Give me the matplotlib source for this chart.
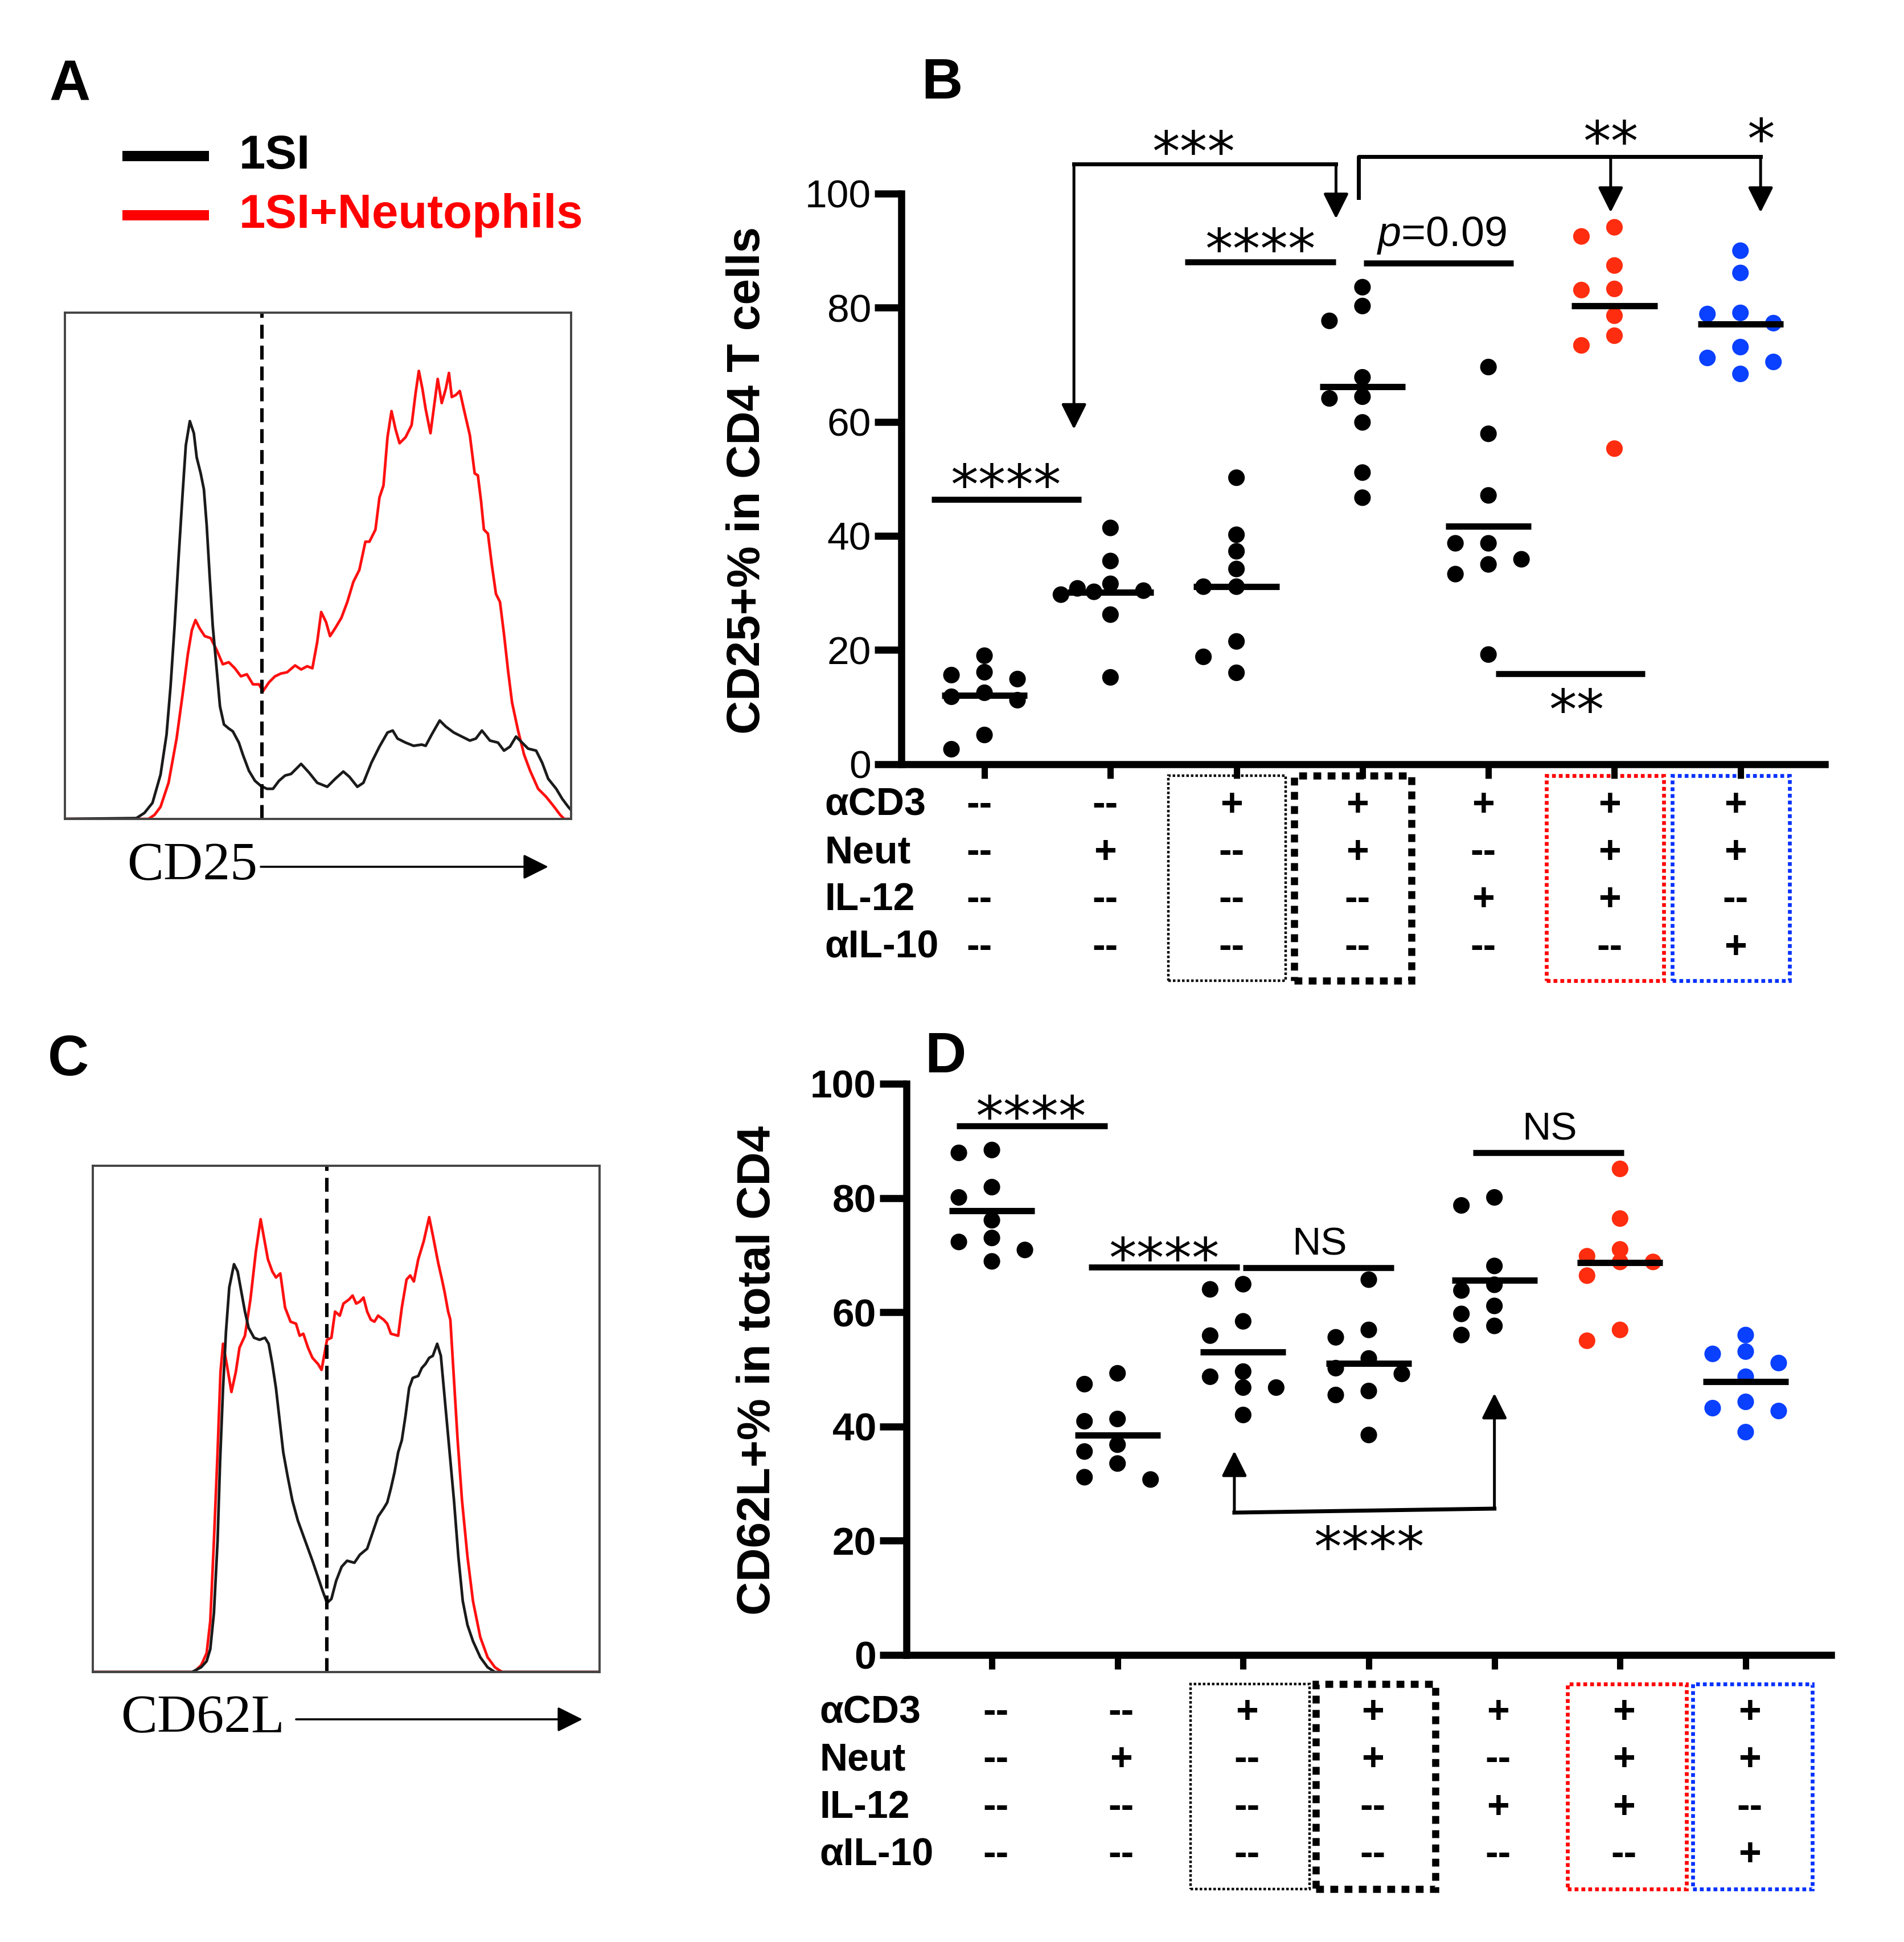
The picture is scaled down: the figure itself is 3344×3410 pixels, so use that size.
import numpy as np
import matplotlib
matplotlib.use("Agg")
import matplotlib.pyplot as plt
from matplotlib.lines import Line2D
from matplotlib.patches import Rectangle

plt.rcParams['font.family'] = ['Liberation Sans', 'DejaVu Sans']
plt.rcParams['mathtext.fontset'] = 'custom'
plt.rcParams['mathtext.it'] = 'Liberation Sans:italic'
plt.rcParams['mathtext.rm'] = 'Liberation Sans'

cd25_ch_1si = [162, 340, 360, 380, 400, 415, 425, 435, 445, 455, 463, 473, 483, 490, 500, 508, 515, 522, 530, 540,
               548, 558, 570, 580, 595, 605, 620, 635, 650, 665, 680, 695, 710, 725, 750, 770, 790, 815, 835, 855,
               870, 890, 905, 925, 945, 965, 978, 990, 1010, 1030, 1050, 1060, 1075, 1095, 1110, 1130, 1150, 1170, 1185, 1200,
               1220, 1240, 1255, 1270, 1285, 1300, 1315, 1335, 1350, 1365, 1385, 1400, 1415, 1422]
cd25_n_1si = [0, 2, 15, 40, 110, 210, 330, 480, 650, 810, 930, 990, 960, 900, 860, 820, 730, 610, 480, 370,
              280, 235, 225, 218, 190, 160, 120, 95, 82, 75, 75, 95, 108, 112, 137, 115, 90, 80, 100, 118,
              105, 80, 90, 140, 180, 215, 220, 200, 190, 182, 185, 182, 210, 245, 230, 215, 205, 195, 200, 220,
              195, 190, 170, 180, 205, 190, 175, 170, 140, 100, 75, 50, 30, 22]
cd25_ch_neut = [162, 370, 385, 400, 420, 440, 455, 468, 478, 487, 497, 510, 525, 540, 555, 570, 585, 600, 615, 630,
                645, 655, 670, 685, 700, 715, 735, 750, 765, 778, 790, 800, 812, 822, 835, 850, 865, 880, 895, 910,
                920, 935, 945, 955, 965, 975, 985, 995, 1010, 1025, 1035, 1043, 1052, 1060, 1072, 1080, 1090, 1100, 1110, 1118,
                1125, 1135, 1145, 1155, 1170, 1182, 1190, 1198, 1205, 1215, 1225, 1235, 1245, 1255, 1265, 1275, 1290, 1305, 1320, 1340,
                1360, 1380, 1395, 1405, 1422]
cd25_n_neut = [0, 0, 10, 30, 90, 200, 310, 410, 470, 495, 475, 455, 450, 420, 385, 390, 375, 355, 360, 335,
               335, 318, 340, 355, 362, 365, 382, 372, 380, 375, 440, 515, 490, 455, 475, 500, 540, 590, 620, 690,
               690, 720, 800, 830, 950, 1015, 970, 935, 950, 980, 1060, 1115, 1070, 1020, 960, 1020, 1095, 1035, 1070, 1110,
               1050, 1055, 1065, 1020, 955, 860, 855, 790, 720, 710, 630, 560, 540, 460, 370, 290, 220, 160, 120, 75,
               55, 30, 10, 0, 0]
cd25_gate = 652

cd62l_ch_1si = [98, 370, 395, 410, 420, 430, 440, 447, 455, 463, 472, 485, 495, 505, 515, 525, 540, 555, 570, 580,
                590, 600, 610, 620, 632, 645, 660, 680, 700, 715, 728, 740, 752, 765, 780, 795, 815, 830, 850, 865,
                880, 895, 905, 915, 925, 935, 945, 955, 965, 975, 990, 1000, 1010, 1020, 1030, 1042, 1052, 1060, 1068, 1078,
                1088, 1100, 1112, 1125, 1140, 1160, 1180, 1200, 1487]
cd62l_n_1si = [0, 0, 12, 27, 57, 147, 327, 527, 707, 847, 957, 1015, 997, 947, 897, 857, 832, 827, 832, 817,
               767, 707, 627, 547, 487, 427, 377, 327, 277, 237, 202, 172, 182, 227, 262, 277, 272, 292, 307, 347,
               387, 407, 422, 457, 497, 547, 577, 637, 707, 732, 737, 757, 767, 782, 787, 817, 787, 707, 627, 527,
               427, 287, 177, 117, 77, 37, 12, 0, 0]
cd62l_ch_neut = [98, 375, 395, 410, 420, 430, 440, 448, 455, 465, 478, 490, 500, 515, 530, 545, 558, 568, 578, 590,
                 600, 612, 625, 640, 655, 665, 675, 688, 700, 715, 725, 740, 752, 762, 775, 785, 800, 810, 820, 830,
                 840, 850, 860, 870, 880, 895, 905, 915, 935, 945, 958, 968, 978, 990, 1005, 1020, 1030, 1045, 1055, 1062,
                 1072, 1078, 1088, 1098, 1110, 1125, 1140, 1160, 1180, 1200, 1220, 1487]
cd62l_n_neut = [0, 0, 17, 47, 127, 327, 547, 747, 817, 767, 697, 747, 807, 837, 927, 1047, 1127, 1077, 1027, 997,
                982, 992, 907, 872, 867, 837, 842, 807, 782, 767, 752, 827, 832, 897, 887, 917, 927, 937, 917, 922,
                932, 897, 877, 872, 887, 877, 867, 842, 837, 907, 977, 987, 972, 1027, 1072, 1132, 1087, 1017, 977, 947,
                897, 877, 727, 577, 427, 287, 177, 87, 37, 12, 0, 0]
cd62l_gate = 740

# ---- panel B: CD25+ % in CD4 T cells
cd25_pct = [
    [19.0, 15.6, 16.1, 14.9, 12.5, 11.8, 11.2, 5.1, 2.6],
    [41.4, 35.6, 31.6, 30.4, 30.2, 29.7, 30.8, 26.2, 15.2],
    [50.2, 40.2, 37.3, 34.2, 31.1, 31.1, 21.5, 18.8, 16.0],
    [83.6, 80.3, 77.7, 67.8, 64.4, 64.1, 59.9, 51.1, 46.7],
    [69.6, 57.9, 47.1, 38.7, 38.7, 35.9, 35.0, 33.3, 19.2],
    [94.1, 92.5, 87.4, 83.1, 83.3, 78.6, 75.1, 73.4, 55.3],
    [90.0, 86.1, 78.9, 79.1, 77.3, 73.1, 71.2, 70.5, 68.4],
]
# ---- panel D: CD62L+ % in total CD4
cd62l_pct = [
    [87.9, 88.4, 81.9, 80.1, 76.1, 73.0, 72.3, 70.9, 68.9],
    [49.3, 47.4, 40.9, 41.3, 36.8, 35.6, 33.5, 30.7, 31.1],
    [64.0, 64.9, 58.4, 55.9, 49.6, 48.7, 46.8, 46.8, 42.0],
    [65.7, 56.9, 55.6, 51.9, 49.2, 50.2, 46.2, 45.5, 38.5],
    [80.1, 78.7, 68.1, 63.8, 64.8, 61.1, 59.7, 57.6, 56.0],
    [85.1, 76.4, 71.0, 68.8, 68.8, 69.8, 66.4, 56.9, 55.0],
    [56.0, 53.1, 52.7, 51.1, 48.7, 44.3, 43.2, 42.7, 39.0],
]
group_colors = ['black', 'black', 'black', 'black', 'black', '#FF2D0F', '#0A40FF']

row_names = ['αCD3', 'Neut', 'IL-12', 'αIL-10']
cond_acd3 = ['--', '--', '+', '+', '+', '+', '+']
cond_neut = ['--', '+', '--', '+', '--', '+', '+']
cond_il12 = ['--', '--', '--', '--', '+', '+', '--']
cond_ail10 = ['--', '--', '--', '--', '--', '--', '+']
conditions = [cond_acd3, cond_neut, cond_il12, cond_ail10]

W, H, DPI = 3344, 3410, 200
fig = plt.figure(figsize=(W / DPI, H / DPI), dpi=DPI)


def histo(rect, ch1, n1, ch2, n2, gate, xlim, label, lab_xy, arr_x):
    ax = fig.add_axes(rect)
    ax.plot(ch2, n2, color='#FF1010', lw=1.7)
    ax.plot(ch1, n1, color='#1a1a1a', lw=1.7)
    ax.plot([gate, gate], [0, 1260], color='black', lw=2.2, ls=(0, (4, 2)))
    ax.set_xlim(*xlim)
    ax.set_ylim(0, 1260)
    ax.set_xticks([])
    ax.set_yticks([])
    for s in ax.spines.values():
        s.set_color('#444444')
        s.set_linewidth(1.4)
    fig.text(lab_xy[0], lab_xy[1], label, family='Liberation Serif', fontsize=34.5,
             ha='center', va='center')
    fig.add_artist(matplotlib.patches.FancyArrowPatch(
        (arr_x[0], lab_xy[1]), (arr_x[1], lab_xy[1]), transform=fig.transFigure,
        arrowstyle='-|>', mutation_scale=34, lw=1.3, color='black', shrinkA=0, shrinkB=0))
    return ax


histo([114 / W, 1 - 1438 / H, 889 / W, 889 / H], cd25_ch_1si, cd25_n_1si, cd25_ch_neut, cd25_n_neut,
      cd25_gate, (162, 1422), 'CD25', (338 / W, 1 - 1522 / H), (458 / W, 963 / W))
histo([163 / W, 1 - 2936 / H, 890 / W, 889 / H], cd62l_ch_1si, cd62l_n_1si, cd62l_ch_neut, cd62l_n_neut,
      cd62l_gate, (98, 1487), 'CD62L', (356 / W, 1 - 3019 / H), (520 / W, 1023 / W))

# legend of panel A
for yy, col, txt in [(274, 'black', '1SI'), (378, '#FF0000', '1SI+Neutophils')]:
    fig.add_artist(Line2D([215 / W, 367 / W], [1 - yy / H, 1 - yy / H], transform=fig.transFigure,
                          color=col, lw=6.5, solid_capstyle='butt'))
    fig.text(420 / W, 1 - yy / H, txt, color=col, fontsize=30, fontweight='bold', ha='left', va='center')

# panel letters
for (px, py), letter in zip([(123, 150), (1654, 147), (120, 1862), (1660, 1857)], 'ABCD'):
    fig.text(px / W, 1 - py / H, letter, fontsize=36, fontweight='bold', ha='center', va='center')


def swarm(vals, px_x, px_y, d):
    vals = np.asarray(vals, float)
    offs = np.zeros(len(vals))
    placed = []
    step = d / px_x
    cands = [0, -2, 2, -1, 1, -3, 3]
    for i in np.argsort(-vals):
        best, best_c = -1, 0
        for c in cands:
            if placed:
                clear = min(((c * step - offs[j]) * px_x / (2 * d)) ** 2 +
                            ((vals[i] - vals[j]) * px_y / d) ** 2 for j in placed)
            else:
                clear = 99
            if clear >= 1:
                best_c = c
                break
            if clear > best:
                best, best_c = clear, c
        offs[i] = best_c * step
        placed.append(i)
    return offs


def stars(ax, x, yc, s, fs=35):
    ax.annotate(s, (x, yc), xytext=(0, -0.55 * fs), textcoords='offset points', ha='center',
                va='baseline', fontsize=fs, family='DejaVu Sans', annotation_clip=False)


def bar(ax, x0, x1, y, lw=3.8):
    ax.plot([x0, x1], [y, y], color='black', lw=lw, clip_on=False, solid_capstyle='butt')


def arrow(ax, p0, p1):
    ax.annotate('', xy=p1, xytext=p0, annotation_clip=False,
                arrowprops=dict(arrowstyle='-|>', color='black', lw=1.8, mutation_scale=34,
                                shrinkA=0, shrinkB=0))


def scatter_panel(rect, groups, xlim, bold_ticks, ylabel, ylab_xy, rows_base, lab_x, box_lo, box_hi,
                  box_y, val_dx):
    ax = fig.add_axes(rect)
    ax.set_xlim(*xlim)
    ax.set_ylim(0, 100)
    px_x = rect[2] * W / (xlim[1] - xlim[0])
    px_y = rect[3] * H / 100.0
    for k, (vals, col) in enumerate(zip(groups, group_colors)):
        xc = k + 1
        offs = swarm(vals, px_x, px_y, 29)
        ax.scatter(xc + offs, vals, s=110, color=col, edgecolors='none', zorder=3, clip_on=False)
        ax.hlines(np.mean(vals), xc - 0.34, xc + 0.34, color='black', lw=4, zorder=4)
    for s in ['top', 'right']:
        ax.spines[s].set_visible(False)
    for s in ['left', 'bottom']:
        ax.spines[s].set_linewidth(4.5)
    ax.set_xticks(range(1, 8))
    ax.set_yticks([0, 20, 40, 60, 80, 100])
    ax.tick_params(axis='x', length=9, width=4, labelbottom=False)
    ax.tick_params(axis='y', length=17, width=4.5, pad=2, labelsize=25)
    if bold_ticks:
        for t in ax.get_yticklabels():
            t.set_fontweight('bold')
    fig.text(ylab_xy[0], ylab_xy[1], ylabel, rotation=90, fontsize=29.5, fontweight='bold',
             ha='center', va='center')
    # condition table
    for r, (name, cond) in enumerate(zip(row_names, conditions)):
        yb = rows_base[0] - r * 8.32
        ax.text(lab_x, yb, name, fontsize=24.5, fontweight='bold', ha='left', va='baseline', clip_on=False)
        for k, c in enumerate(cond):
            ax.text(k + 1 + val_dx, yb, c, fontsize=24.5, fontweight='bold', ha='center', va='baseline',
                    clip_on=False)
    boxes = [(3, 'black', 1.6, (0, (1, 0.8))), (4, 'black', 4.5, (0, (1.1, 0.9))),
             (6, '#FF0000', 2.4, (0, (1, 0.8))), (7, '#0030FF', 2.4, (0, (1, 0.8)))]
    for col, ec, lw, ls in boxes:
        ax.add_patch(Rectangle((col + box_lo, box_y[1]), box_hi - box_lo, box_y[0] - box_y[1], fill=False,
                               ec=ec, lw=lw, ls=ls, clip_on=False))
    return ax


axB = scatter_panel([1583 / W, 1 - 1341.6 / H, 1622 / W, 1001.6 / H], cd25_pct, (0.34, 7.67), False,
                    'CD25+% in CD4 T cells', (1313 / W, 1 - 843 / H), [-9.0], -0.27, -0.54, 0.39,
                    (-2.0, -38.0), -0.04)
axD = scatter_panel([1592 / W, 1 - 2905.7 / H, 1624 / W, 1002.7 / H], cd62l_pct, (0.32, 7.68), True,
                    'CD62L+% in total CD4', (1331 / W, 1 - 2406 / H), [-11.9], -0.37, -0.42, 0.53,
                    (-5.1, -41.0), 0.03)

# ---- significance marks, panel B
bar(axB, 0.58, 1.77, 46.4)
stars(axB, 1.17, 50.9, '****')
axB.plot([1.71, 3.79], [105.2, 105.2], color='black', lw=2.5, clip_on=False)
arrow(axB, (1.71, 105.2), (1.71, 58.7))
arrow(axB, (3.79, 105.2), (3.79, 95.6))
stars(axB, 2.66, 109.3, '***')
bar(axB, 2.59, 3.79, 88.0)
stars(axB, 3.19, 92.3, '****')
bar(axB, 4.01, 5.20, 87.8)
axB.text(4.63, 90.8, r'$\mathit{p}$=0.09', fontsize=26.5, ha='center', va='baseline', clip_on=False)
axB.plot([3.97, 3.97, 7.16], [99.3, 106.5, 106.5], color='black', lw=2.5, clip_on=False)
arrow(axB, (5.97, 106.5), (5.97, 96.7))
arrow(axB, (7.16, 106.5), (7.16, 96.7))
stars(axB, 5.97, 111.1, '**')
stars(axB, 7.16, 111.5, '*')
bar(axB, 5.06, 6.24, 15.8)
stars(axB, 5.70, 11.5, '**')

# ---- significance marks, panel D
bar(axD, 0.72, 1.92, 92.6)
stars(axD, 1.31, 96.3, '****')
bar(axD, 1.77, 2.97, 67.9)
stars(axD, 2.37, 71.4, '****')
bar(axD, 3.00, 4.20, 67.8)
axD.text(3.61, 70.0, 'NS', fontsize=25, ha='center', va='baseline', clip_on=False)
bar(axD, 4.83, 6.03, 87.9)
axD.text(5.44, 90.2, 'NS', fontsize=25, ha='center', va='baseline', clip_on=False)
axD.plot([2.93, 5.00], [24.9, 25.6], color='black', lw=2.5, clip_on=False)
arrow(axD, (2.93, 24.9), (2.93, 35.7))
arrow(axD, (5.00, 25.6), (5.00, 45.8))
stars(axD, 4.00, 20.9, '****')

fig.savefig('out.png', dpi=DPI)
